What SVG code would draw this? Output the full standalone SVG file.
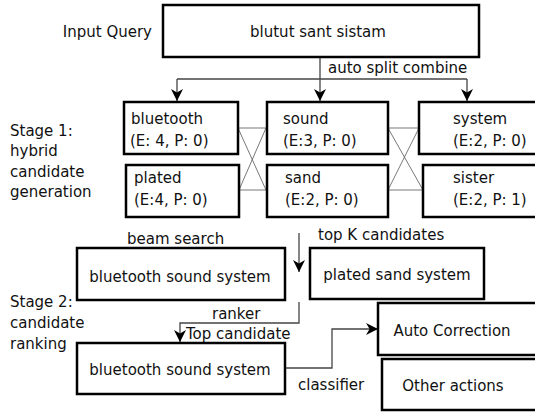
<svg xmlns="http://www.w3.org/2000/svg" width="535" height="412" viewBox="0 0 535 412">
<defs>
<style>
text{font-family:"DejaVu Sans","Liberation Sans",sans-serif;font-size:15px;fill:#111}
.box{fill:#fff;stroke:#000;stroke-width:2.5}
.c{fill:none;stroke:#444;stroke-width:1.3}
.x{fill:none;stroke:#555;stroke-width:0.8}
.m{text-anchor:middle}
</style>
<marker id="ah" viewBox="0 0 10 10" refX="10" refY="5" markerWidth="12" markerHeight="12" markerUnits="userSpaceOnUse" orient="auto">
<path d="M0,0 L10,5 L0,10 L3,5 z" fill="#000"/>
</marker>
</defs>
<rect width="535" height="412" fill="#fff"/>

<g id="labels">
<text x="152" y="37" text-anchor="end">Input Query</text>
<text x="10" y="136">Stage 1:</text>
<text x="10" y="156">hybrid</text>
<text x="10" y="177">candidate</text>
<text x="10" y="197">generation</text>
<text x="10" y="307">Stage 2:</text>
<text x="10" y="328">candidate</text>
<text x="10" y="349">ranking</text>
</g>

<g id="connectors">
<path class="c" d="M320,57 V79"/>
<path class="c" d="M177,79 H467"/>
<path class="c" d="M177,79 V101" marker-end="url(#ah)"/>
<path class="c" d="M320,79 V101" marker-end="url(#ah)"/>
<path class="c" d="M467,79 V101" marker-end="url(#ah)"/>
<path class="x" d="M238,128 H266 M239,190 H266 M238,128 L266,190 M239,190 L266,128"/>
<path class="x" d="M388,128 H419 M388,190 H423 M388,128 L423,190 M388,190 L419,128"/>
<path class="c" d="M299,233 V272" marker-end="url(#ah)"/>
<path class="c" d="M299,302 V323 H180 V342" marker-end="url(#ah)"/>
<path class="c" d="M285,368 H332 V329 H378" marker-end="url(#ah)"/>
<text x="328" y="73">auto split combine</text>
<text x="127" y="244">beam search</text>
<text x="318" y="240">top K candidates</text>
<text x="212" y="319">ranker</text>
<text x="186" y="339">Top candidate</text>
<text x="298" y="390">classifier</text>
</g>

<g id="input">
<rect class="box" x="163" y="5" width="316" height="52"/>
<text class="m" x="318" y="37">blutut sant sistam</text>
</g>

<g id="bluetooth">
<rect class="box" x="124" y="102" width="114" height="52"/>
<text x="131" y="124">bluetooth</text>
<text x="130" y="146">(E: 4, P: 0)</text>
</g>
<g id="plated">
<rect class="box" x="126" y="165" width="113" height="52"/>
<text x="134" y="183">plated</text>
<text x="134" y="205">(E:4, P: 0)</text>
</g>
<g id="sound">
<rect class="box" x="267" y="102" width="121" height="52"/>
<text x="283" y="124">sound</text>
<text x="283" y="146">(E:3, P: 0)</text>
</g>
<g id="sand">
<rect class="box" x="267" y="165" width="121" height="52"/>
<text x="285" y="183">sand</text>
<text x="285" y="205">(E:2, P: 0)</text>
</g>
<g id="system">
<rect class="box" x="419" y="102" width="130" height="52"/>
<text x="453" y="124">system</text>
<text x="453" y="146">(E:2, P: 0)</text>
</g>
<g id="sister">
<rect class="box" x="423" y="165" width="130" height="52"/>
<text x="453" y="183">sister</text>
<text x="453" y="205">(E:2, P: 1)</text>
</g>

<g id="cand1">
<rect class="box" x="77" y="248" width="208" height="52"/>
<text class="m" x="180" y="282">bluetooth sound system</text>
</g>
<g id="cand2">
<rect class="box" x="310" y="248" width="174" height="51"/>
<text class="m" x="397" y="280">plated sand system</text>
</g>
<g id="top">
<rect class="box" x="77" y="343" width="208" height="51"/>
<text class="m" x="180" y="375">bluetooth sound system</text>
</g>
<g id="autocorrection">
<rect class="box" x="378" y="303" width="170" height="52"/>
<text class="m" x="452" y="336">Auto Correction</text>
</g>
<g id="otheractions">
<rect class="box" x="382" y="359" width="170" height="51"/>
<text class="m" x="453" y="391">Other actions</text>
</g>
</svg>
